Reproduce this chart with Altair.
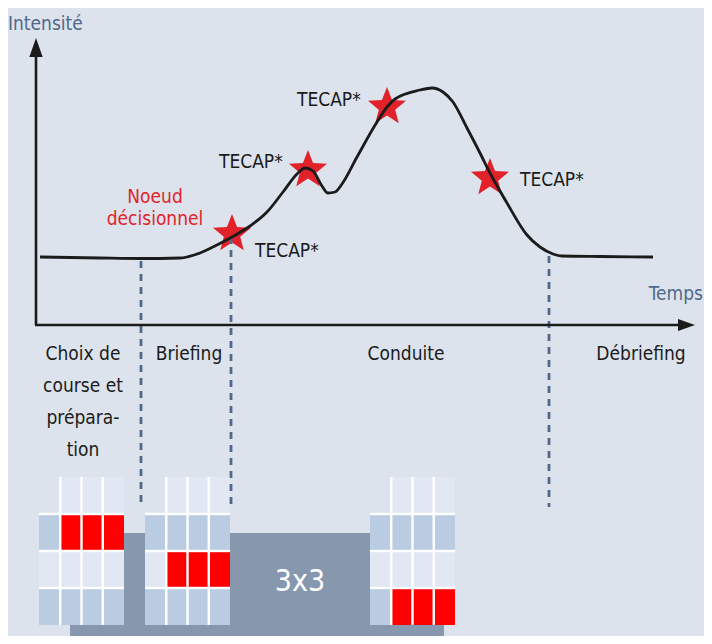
import math
import altair as alt
import pandas as pd

# ---------------- data ----------------
# intensity curve (time along the x axis, intensity above the time axis)
temps = [4, 64, 104, 144, 164, 179, 196, 214, 231, 247, 261, 269, 277, 286, 292,
         299, 306, 321, 341, 351, 359, 384, 396, 407, 417, 431, 444, 454, 471,
         491, 504, 517, 526, 564, 617]
intensite = [68, 67, 66.5, 67, 72, 79, 88, 99, 113, 133, 151, 157, 154, 139, 132,
             133, 141, 168, 203, 218, 226, 235, 237, 233, 223, 197, 172, 152, 122,
             90, 78, 71, 69, 68.5, 68]

tecap_temps = [196, 272, 351, 454]
tecap_intensite = [91, 155, 218, 147]
tecap_labels = ["TECAP*", "TECAP*", "TECAP*", "TECAP*"]

phase_labels = ["Choix de\ncourse et\nprépara-\ntion", "Briefing", "Conduite", "Débriefing"]
phase_limits_temps = [105, 195, 513]
phase_limits_intensite = [64, 88, 69]

noeud_label = "Noeud\ndécisionnel"
axis_titles = ["Intensité", "Temps"]
box_label = "3x3"
grid_highlight_rows = [1, 2, 3]
grid_n = 4

# ---------------- layout (reference pixels) ----------------
X0, Y0 = 36, 325
W, H = 696, 628


def X(px):
    return px - X0


def Y(py):
    return Y0 - py


xs = alt.Scale(domain=[X(8), X(8 + W)], nice=False, zero=False)
ys = alt.Scale(domain=[Y(8 + H), Y(8)], nice=False, zero=False)


def ex(f="x"):
    return alt.X(f, type="quantitative", scale=xs, axis=None)


def ey(f="y"):
    return alt.Y(f, type="quantitative", scale=ys, axis=None)


BG = "#dce3ec"
BLUE = "#50698b"
INK = "#1b1b1b"
RED = "#e2222b"
FONT = "DejaVu Sans Condensed, Roboto, sans-serif"

# gray box
box_df = pd.DataFrame([{"x": X(70), "x2": X(444), "y": Y(533), "y2": Y(644)}])
box = alt.Chart(box_df).mark_rect(color="#8697ae", clip=True).encode(
    x=ex(), x2="x2", y=ey(), y2="y2")

# grids
grid_left = [39, 145, 370]
grid_top = 477
cw, rh = 85 / 4, 37
g = 1.2
backing, cells = [], []
for gi, L in enumerate(grid_left):
    backing.append({"x": X(L), "x2": X(L + 4 * cw), "y": Y(grid_top + rh - g), "y2": Y(grid_top + 4 * rh)})
    backing.append({"x": X(L + cw - g), "x2": X(L + 4 * cw), "y": Y(grid_top), "y2": Y(grid_top + rh)})
    for r in range(grid_n):
        for c in range(grid_n):
            if r == 0 and c == 0:
                continue
            if r == grid_highlight_rows[gi] and c >= 1:
                col = "#ff0000"
            elif r % 2 == 0:
                col = "#e1e8f3"
            else:
                col = "#b9cce1"
            x1 = L + c * cw + (g if c > 0 else 0)
            x2 = L + (c + 1) * cw - (g if c < grid_n - 1 else 0)
            y1 = grid_top + r * rh + (g if r > 0 else 0)
            y2 = grid_top + (r + 1) * rh - (g if r < grid_n - 1 else 0)
            cells.append({"x": X(x1), "x2": X(x2), "y": Y(y1), "y2": Y(y2), "c": col})
back = alt.Chart(pd.DataFrame(backing)).mark_rect(color="white").encode(
    x=ex(), x2="x2", y=ey(), y2="y2")
cell = alt.Chart(pd.DataFrame(cells)).mark_rect().encode(
    x=ex(), x2="x2", y=ey(), y2="y2", color=alt.Color("c:N", scale=None))

box_text = alt.Chart(pd.DataFrame([{"x": X(300), "y": Y(591), "t": box_label}])).mark_text(
    font=FONT, fontSize=30, color="white", align="center", baseline="alphabetic").encode(
    x=ex(), y=ey(), text="t:N")

# stars
star_pts = []
for k in range(10):
    a = math.radians(-90 + 36 * k)
    r = 1 if k % 2 == 0 else 0.43
    star_pts.append(f"{r * math.cos(a):.4f},{r * math.sin(a):.4f}")
STAR = "M" + "L".join(star_pts) + "Z"
tecap_df = pd.DataFrame({"x": tecap_temps, "y": tecap_intensite, "t": tecap_labels})
stars = alt.Chart(tecap_df).mark_point(shape=STAR, size=1600, filled=True, fill=RED,
                                       strokeWidth=0, opacity=1).encode(x=ex(), y=ey())

# dashed phase limits
dash_df = pd.DataFrame({"x": phase_limits_temps, "y": phase_limits_intensite,
                        "y2": [Y(507)] * 3})
dashes = alt.Chart(dash_df).mark_rule(color=BLUE, strokeWidth=2.8, strokeDash=[7, 6]).encode(
    x=ex(), y=ey(), y2="y2")

# axes
vaxis = alt.Chart(pd.DataFrame([{"x": 0, "y": 0, "y2": Y(56)}])).mark_rule(
    color=INK, strokeWidth=2.6).encode(x=ex(), y=ey(), y2="y2")
haxis = alt.Chart(pd.DataFrame([{"x": -1, "x2": X(684), "y": 0}])).mark_rule(
    color=INK, strokeWidth=2.6).encode(x=ex(), x2="x2", y=ey())
up = alt.Chart(pd.DataFrame([{"x": 0, "y": Y(47.5)}])).mark_point(
    shape="M0,-1L0.7,1L-0.7,1Z", size=361, filled=True, fill=INK, strokeWidth=0, opacity=1).encode(
    x=ex(), y=ey())
right = alt.Chart(pd.DataFrame([{"x": X(686.5), "y": 0}])).mark_point(
    shape="M1,0L-1,0.7L-1,-0.7Z", size=289, filled=True, fill=INK, strokeWidth=0, opacity=1).encode(
    x=ex(), y=ey())

# curve
curve = alt.Chart(pd.DataFrame({"x": temps, "y": intensite})).mark_line(
    color=INK, strokeWidth=2.8, interpolate="monotone").encode(x=ex(), y=ey())

# texts
tec_txt = pd.DataFrame({
    "x": [X(p) for p in [255, 219, 297, 520]],
    "y": [Y(p) for p in [257, 168, 106, 186]],
    "t": tecap_labels,
})
tecap_text = alt.Chart(tec_txt).mark_text(
    font=FONT, fontSize=19, color=INK, align="left", baseline="alphabetic").encode(
    x=ex(), y=ey(), text="t:N")

phase_df = pd.DataFrame({"x": [X(p) for p in [83, 189, 406, 641]],
                         "y": [Y(360)] * 4, "t": phase_labels})
phase_text = alt.Chart(phase_df).mark_text(
    font=FONT, fontSize=19, color=INK, align="center", baseline="alphabetic",
    lineBreak="\n", lineHeight=32).encode(x=ex(), y=ey(), text="t:N")

noeud = alt.Chart(pd.DataFrame([{"x": X(155), "y": Y(203), "t": noeud_label}])).mark_text(
    font=FONT, fontSize=19, color=RED, align="center", baseline="alphabetic",
    lineBreak="\n", lineHeight=22).encode(x=ex(), y=ey(), text="t:N")

ytitle = alt.Chart(pd.DataFrame([{"x": X(8), "y": Y(29.5), "t": axis_titles[0]}])).mark_text(
    font=FONT, fontSize=19, color=BLUE, align="left", baseline="alphabetic").encode(
    x=ex(), y=ey(), text="t:N")
xtitle = alt.Chart(pd.DataFrame([{"x": X(703), "y": Y(300), "t": axis_titles[1]}])).mark_text(
    font=FONT, fontSize=19, color=BLUE, align="right", baseline="alphabetic").encode(
    x=ex(), y=ey(), text="t:N")

chart = alt.layer(
    box, back, cell, box_text, stars, dashes, vaxis, haxis, up, right, curve,
    tecap_text, phase_text, noeud, ytitle, xtitle,
).properties(
    width=W, height=H, autosize=alt.AutoSizeParams(type="none"), padding=0,
).configure(background=BG).configure_view(stroke=None)

chart.save("out.html", embed_options={"renderer": "svg", "actions": False})
